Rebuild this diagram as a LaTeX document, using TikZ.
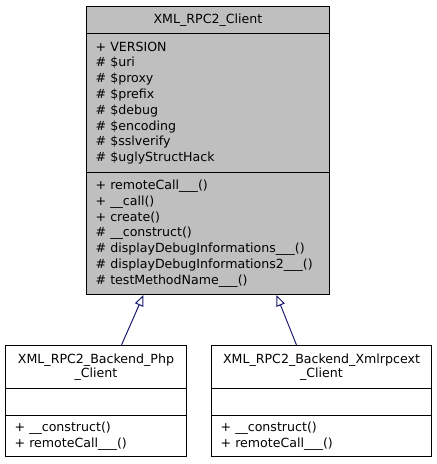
\documentclass[tikz,border=0pt]{standalone}
\usepackage{fontspec}
\setmainfont{DejaVu Sans}
\definecolor{boxgray}{RGB}{191, 191, 191}
\definecolor{inheritblue}{RGB}{25, 25, 112}
\usepackage{tikz}
\usetikzlibrary{arrows.meta, positioning}

\begin{document}
\begin{tikzpicture}[x=1pt, y=-1pt,
  classpart/.style={draw, line width=1pt, rectangle, inner sep=0pt, anchor=north west},
  classname/.style={classpart, align=center, font=\fontsize{12.6}{14.3}\selectfont},
  members/.style={classpart, align=left, inner xsep=9pt, font=\fontsize{12.6}{15.8}\selectfont},
  inherit/.style={draw=inheritblue, line width=1pt, -{Triangle[open, length=11pt, width=9pt]}}]
  \useasboundingbox (0, 0) rectangle (437, 464);

  % Base class
  \node[classname, fill=boxgray, minimum width=243pt, minimum height=27pt] (clienttitle) at (86, 6) {XML\_RPC2\_Client};
  \node[members, fill=boxgray, minimum width=243pt, minimum height=139pt, text width=225pt] (clientattr) at (86, 33) {
    + VERSION\\
    \# \$uri\\
    \# \$proxy\\
    \# \$prefix\\
    \# \$debug\\
    \# \$encoding\\
    \# \$sslverify\\
    \# \$uglyStructHack};
  \node[members, fill=boxgray, minimum width=243pt, minimum height=122pt, text width=225pt] (clientops) at (86, 172) {
    + remoteCall\_\_\_()\\
    + \_\_call()\\
    + create()\\
    \# \_\_construct()\\
    \# displayDebugInformations\_\_\_()\\
    \# displayDebugInformations2\_\_\_()\\
    \# testMethodName\_\_\_()};

  % Php backend
  \node[classname, fill=white, minimum width=181pt, minimum height=43pt] (phptitle) at (5, 345) {XML\_RPC2\_Backend\_Php\\\_Client};
  \node[classpart, fill=white, minimum width=181pt, minimum height=27pt] (phpattr) at (5, 388) {};
  \node[members, fill=white, minimum width=181pt, minimum height=41pt, text width=163pt,
    font=\fontsize{12.6}{16.3}\selectfont] (phpops) at (5, 415) {
    + \_\_construct()\\
    + remoteCall\_\_\_()};

  % Xmlrpcext backend
  \node[classname, fill=white, minimum width=220pt, minimum height=43pt] (xmltitle) at (211, 345) {XML\_RPC2\_Backend\_Xmlrpcext\\\_Client};
  \node[classpart, fill=white, minimum width=220pt, minimum height=27pt] (xmlattr) at (211, 388) {};
  \node[members, fill=white, minimum width=220pt, minimum height=41pt, text width=202pt,
    font=\fontsize{12.6}{16.3}\selectfont] (xmlops) at (211, 415) {
    + \_\_construct()\\
    + remoteCall\_\_\_()};

  % Inheritance
  \draw[inherit] ([xshift=25.5pt]phptitle.north) -- ([xshift=-64.5pt]clientops.south);
  \draw[inherit] ([xshift=-25pt]xmltitle.north) -- ([xshift=68.5pt]clientops.south);
\end{tikzpicture}
\end{document}
